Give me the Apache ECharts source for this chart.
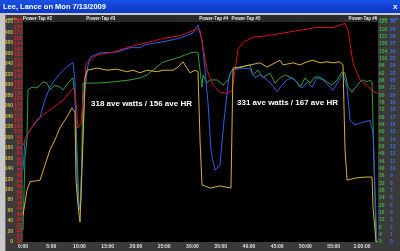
<!DOCTYPE html>
<html>
<head>
<meta charset="utf-8">
<script src="https://cdn.jsdelivr.net/npm/echarts@6/dist/echarts.min.js"></script>
<style>
html,body{margin:0;padding:0;background:#3a3a3a;}
#chart{width:400px;height:251px;}
</style>
</head>
<body>
<div id="chart"></div>
<script>
// ---- data (time in minutes, value in series units) ----
const xTickLabels = ["0:00","5:00","10:00","15:00","20:00","25:00","30:00","35:00","40:00","45:00","50:00","55:00","1:00:00"];
const lapLabels = ["Power-Tap #2","Power-Tap #3","Power-Tap #4","Power-Tap #5","Power-Tap #6"];
const lapTimes = [0, 11.2, 31.2, 36.9, 57.6];
const notes = ["318 ave watts / 156 ave HR","331 ave watts / 167 ave HR"];

const wattsData = [
[0,52],[0.71,99],[1.24,115],[3.01,118],[3.89,147],[4.78,176],[5.66,195],[6.55,218],[7.79,239],[8.67,256],[9.2,248],[9.38,118],[9.73,71],[10.09,38],[10.44,137],[10.97,313],[11.33,328],
[13.1,332],[14.87,328],[16.64,330],[18.41,325],[19.47,328],[20.71,323],[21.95,328],[23.72,325],[24.78,328],[26.55,328],[27.43,334],[28.32,344],[29.03,332],[29.56,323],[30.44,328],[30.97,325],
[31.33,195],[31.68,109],[33.1,103],[34.87,107],[36.81,103],[37.17,332],[38.41,334],[40.18,338],[41.95,342],[43.19,334],[44.96,344],[45.49,347],[46.02,338],[47.79,342],[49.03,338],[50.27,344],
[51.33,347],[52.57,342],[53.81,344],[54.87,342],[56.11,344],[56.64,338],[56.99,176],[57.35,118],[58.76,122],[60.53,124],[61.77,124],[61.95,67],[62.48,0],[62.83,0]
];
const hrData = [
[0,90],[0.71,98],[2.48,109],[4.78,116],[7.08,123],[8.85,132],[9.2,130],[9.56,112],[9.73,103],[10.27,107],[10.8,130],[11.15,150],[13.1,156],[15.93,158],[18.94,162],[21.95,165],[24.78,168],
[27.79,170],[30.8,175],[31.33,174],[31.86,162],[32.57,145],[33.63,134],[34.87,129],[36.11,128],[36.99,130],[37.52,145],[38.05,160],[38.94,165],[40.71,169],[43.19,170],[46.02,172],[49.03,174],
[52.04,176],[54.87,176],[56.99,179],[57.52,174],[58.41,150],[59.65,138],[60.88,134],[61.77,130],[62.83,128]
];
const cadenceData = [
[0,6.5],[0.35,46],[0.71,56],[0.88,83],[1.59,84.5],[2.48,84],[3.54,87.3],[4.25,86.7],[4.78,82.9],[5.66,85.6],[6.55,84.5],[7.08,82.9],[7.96,86.7],[8.85,89.5],[9.2,80],[9.56,50],[9.91,17.5],
[10.27,23],[10.62,86.7],[11.5,86.7],[13.1,86.7],[15.93,87.3],[18.94,88.4],[20.71,89.5],[21.95,91.1],[23.72,95.5],[24.78,98.2],[26.02,99.3],[27.79,100.9],[29.56,103.1],[30.44,103.6],[30.97,103.1],
[31.68,84.5],[31.86,91.1],[32.57,86.7],[33.1,88.4],[34.34,88.4],[35.4,85.6],[36.28,88.4],[36.99,93.8],[37.88,94.9],[38.94,95.5],[40.18,96.6],[40.71,91.1],[41.59,93.8],[42.48,89.5],[43.72,92.2],
[44.6,86.7],[45.49,89.5],[46.37,91.1],[47.26,90],[48.14,88.4],[49.03,84.5],[49.91,89.5],[50.8,86.7],[51.68,90],[52.57,90],[53.81,87.3],[54.69,85.6],[55.58,88.4],[56.46,92.7],[56.99,92.2],
[57.52,84.5],[58.23,81.8],[58.76,84],[59.65,87.3],[60.18,88.4],[60.88,87.3],[61.42,88.4],[61.77,87.3],[62.12,44.7],[62.48,0]
];
const speedData = [
[0,9.8],[0.35,13.9],[1.24,15.3],[3.01,17],[3.89,19.4],[4.78,21.1],[5.31,21.8],[6.55,23],[7.79,23.9],[8.85,24.5],[9.2,22],[9.38,13.9],[9.73,5.7],[10.09,4.4],[10.44,11.2],[10.97,20.7],[11.5,24.1],
[11.86,25.2],[13.63,25.8],[16.64,25.9],[18.94,26.5],[20.71,26.5],[21.59,26.9],[24.78,27.3],[27.79,27.8],[30.09,28.5],[30.97,29.6],[31.68,27.5],[32.21,23.5],[32.74,19],[33.27,12.5],[33.98,9.8],
[34.87,10.5],[35.58,16.6],[36.28,21.4],[36.64,23],[37.17,23.5],[38.94,23.7],[40.18,23.6],[41.06,22.4],[41.95,22.8],[43.19,22.1],[44.07,21.4],[44.96,20.5],[45.84,21.4],[46.73,22.1],[47.61,22.4],
[48.5,21.8],[49.38,21],[50.27,21.8],[51.15,21.1],[52.04,22.4],[53.1,22.1],[53.98,21.4],[54.87,20.7],[55.75,21.8],[56.64,23],[57.35,21.1],[57.88,16.6],[58.76,16],[60.53,16.4],[61.42,16.6],
[61.95,14.9],[62.3,7.1],[62.65,0]
];

const chart = echarts.init(document.getElementById('chart'), null, {renderer:'canvas'});
const tiny = {fontFamily:'Liberation Sans', fontSize:5};

function yAx(pos, offset, min, max, interval, color){
  return {
    type:'value', position:pos, offset:offset, min:min, max:max, interval:interval,
    axisLine:{show:false}, axisTick:{show:false}, splitLine:{show:false},
    axisLabel:{show:true, interval:0, color:color, fontFamily:'Liberation Sans', fontSize:5, fontWeight:'bold', margin:1}
  };
}

const graphics = [
  {type:'rect', shape:{x:0,y:0,width:400,height:13}, style:{fill:new echarts.graphic.LinearGradient(0,0,0,1,[{offset:0,color:'#1a52e6'},{offset:1,color:'#0a36c4'}])}, silent:true, z:-10},
  {type:'rect', shape:{x:0,y:13,width:400,height:2}, style:{fill:'#c8c8c8'}, silent:true, z:-10},
  {type:'rect', shape:{x:0,y:13,width:5,height:238}, style:{fill:'#c8c8c8'}, silent:true, z:-10},
  {type:'rect', shape:{x:5,y:15,width:1,height:236}, style:{fill:'#707070'}, silent:true, z:-10},
  {type:'rect', shape:{x:6,y:15,width:394,height:236}, style:{fill:'#3a3a3a'}, silent:true, z:-10},
  {type:'rect', shape:{x:23,y:15,width:355,height:7}, style:{fill:'#2a2a2a'}, silent:true, z:-9},
  {type:'text', x:3, y:6.5, style:{text:'Lee, Lance on Mon 7/13/2009', fill:'#ffffff', font:'bold 7.5px "Liberation Sans"', textVerticalAlign:'middle'}, silent:true},
  {type:'text', x:393, y:6.5, style:{text:'x', fill:'#ffffff', font:'bold 8px "Liberation Sans"', textVerticalAlign:'middle'}, silent:true},
  {type:'text', x:7, y:18.5, style:{text:'watts', fill:'#d8b848', font:'bold 4px "Liberation Sans"', textVerticalAlign:'middle'}, silent:true},
  {type:'text', x:15, y:18.5, style:{text:'bpm', fill:'#e02020', font:'bold 4px "Liberation Sans"', textVerticalAlign:'middle'}, silent:true},
  {type:'text', x:380, y:18.5, style:{text:'rpm', fill:'#40b040', font:'bold 4px "Liberation Sans"', textVerticalAlign:'middle'}, silent:true},
  {type:'text', x:390, y:18.5, style:{text:'mph', fill:'#3a70f0', font:'bold 4px "Liberation Sans"', textVerticalAlign:'middle'}, silent:true}
];
lapLabels.forEach((s,i)=>{
  graphics.push({type:'text', x:23 + lapTimes[i]*5.65, y:18.5, style:{text:s, fill:'#e8e8e8', font:'bold 4.5px "Liberation Sans"', textVerticalAlign:'middle'}, silent:true});
});
graphics.push({type:'text', x:91, y:104, style:{text:notes[0], fill:'#ffffff', font:'bold 8px "Liberation Sans"', textVerticalAlign:'middle'}, silent:true, z:100});
graphics.push({type:'text', x:237, y:103, style:{text:notes[1], fill:'#ffffff', font:'bold 8px "Liberation Sans"', textVerticalAlign:'middle'}, silent:true, z:100});

function ln(name, data, yi, color){
  return {name:name, type:'line', data:data, yAxisIndex:yi, showSymbol:false, smooth:false,
    lineStyle:{width:1, color:color}, itemStyle:{color:color}, z:5};
}

chart.setOption({
  animation:false,
  backgroundColor:'#3a3a3a',
  grid:{left:23, right:22, top:22, bottom:9, show:true, backgroundColor:'#000000', borderWidth:0, containLabel:false},
  xAxis:{type:'value', min:0, max:62.83, interval:5,
    axisLine:{show:false}, axisTick:{show:false}, splitLine:{show:false},
    axisLabel:{color:'#e0e0e0', fontFamily:'Liberation Sans', fontSize:5, fontWeight:'bold', margin:2, showMaxLabel:false,
      formatter:(v)=>{const i=Math.round(v/5); return (Math.abs(v-i*5)<0.01 && xTickLabels[i]!==undefined)?xTickLabels[i]:'';}}},
  yAxis:[
    yAx('left', 9, 0, 420, 20, '#d8b848'),
    yAx('left', 0, 20, 180, 4, '#e02020'),
    yAx('right', 0, 0, 120, 4, '#40b040'),
    yAx('right', 11, 0, 30, 1, '#3a70f0')
  ],
  graphic:graphics,
  series:[
    ln('Cadence', cadenceData, 2, '#2fa032'),
    ln('Speed', speedData, 3, '#2c5ee8'),
    ln('HR', hrData, 1, '#d80c1c'),
    ln('Watts', wattsData, 0, '#d8b030')
  ]
});
</script>
</body>
</html>
